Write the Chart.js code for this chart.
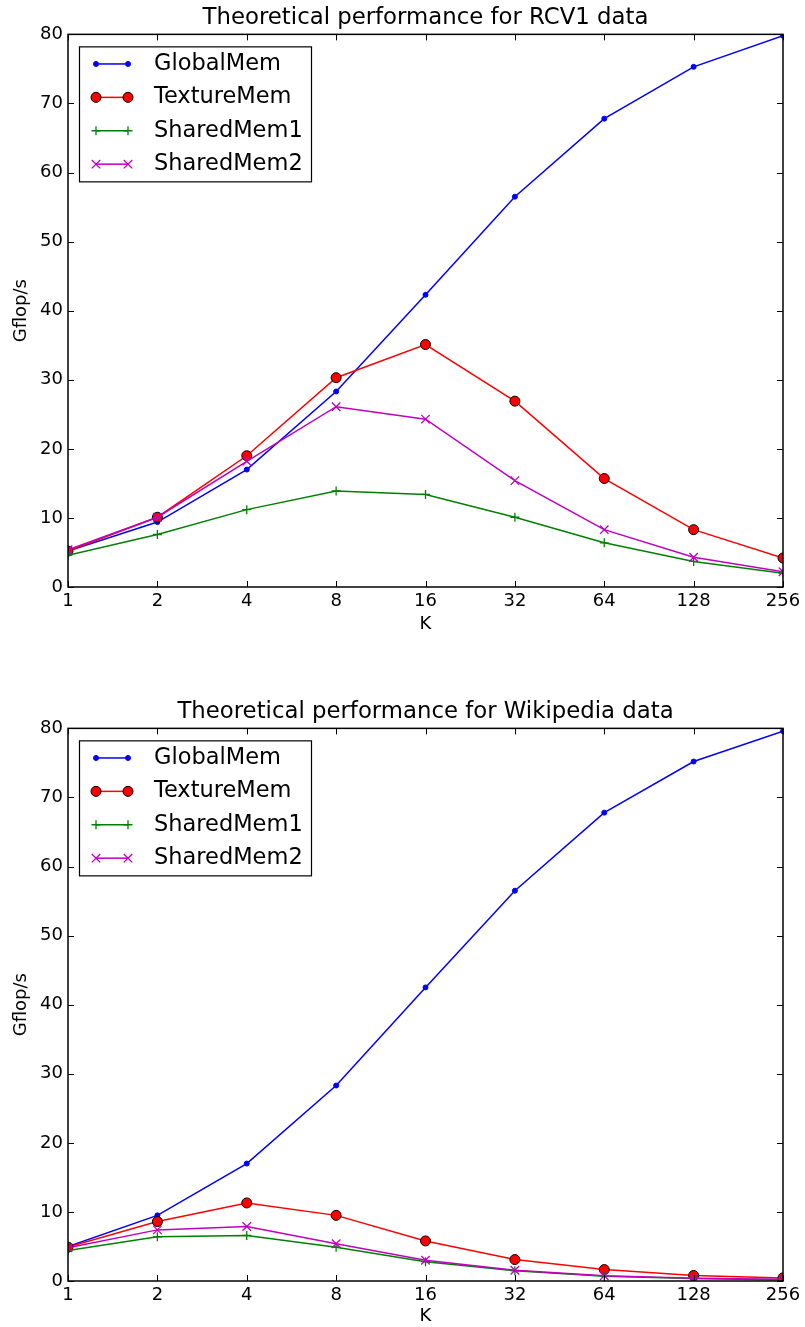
<!DOCTYPE html>
<html>
<head>
<meta charset="utf-8">
<script src="https://cdn.jsdelivr.net/npm/chart.js@4.4.1/dist/chart.umd.min.js"></script>
<style>
    body { margin: 0; background: #fff; }
    canvas { display: block; }
</style>
</head>
<body>
<canvas id="rcv1Chart" width="805" height="663"></canvas>
<canvas id="wikiChart" width="805" height="664"></canvas>
<script>
// K values on the x axis
const kLabels = ['1', '2', '4', '8', '16', '32', '64', '128', '256'];

// RCV1 data (Gflop/s)
const rcv1Global = [5.2, 9.4, 17.0, 28.3, 42.3, 56.5, 67.8, 75.3, 79.8];
const rcv1Texture = [5.2, 10.1, 19.0, 30.3, 35.1, 26.9, 15.7, 8.3, 4.2];
const rcv1Shared1 = [4.6, 7.6, 11.2, 13.9, 13.4, 10.1, 6.4, 3.7, 2.0];
const rcv1Shared2 = [5.4, 10.1, 18.2, 26.1, 24.3, 15.4, 8.3, 4.3, 2.2];

// Wikipedia data (Gflop/s)
const wikiGlobal = [5.0, 9.5, 17.0, 28.3, 42.5, 56.5, 67.8, 75.2, 79.6];
const wikiTexture = [4.9, 8.6, 11.3, 9.5, 5.8, 3.1, 1.65, 0.8, 0.45];
const wikiShared1 = [4.4, 6.4, 6.6, 4.9, 2.8, 1.5, 0.7, 0.35, 0.15];
const wikiShared2 = [4.8, 7.4, 7.9, 5.4, 3.0, 1.55, 0.75, 0.4, 0.25];

const seriesNames = ['GlobalMem', 'TextureMem', 'SharedMem1', 'SharedMem2'];
const yTicks = { min: 0, max: 80, step: 10 };

const FONT = 'DejaVu Sans';
const TICK_LEN = 6;

Chart.defaults.font.family = FONT;
Chart.defaults.color = '#000';

// marker styles roughly like matplotlib's '.-', 'o-', '+-', 'x-'
const seriesStyles = [
    { color: '#0000ff', pointStyle: 'circle', radius: 2.5, fill: '#0000ff', edge: '#0000ff', edgeWidth: 1 },
    { color: '#ff0000', pointStyle: 'circle', radius: 5, fill: '#ff0000', edge: '#000000', edgeWidth: 1 },
    { color: '#008000', pointStyle: 'cross', radius: 4.5, fill: '#008000', edge: '#008000', edgeWidth: 1.3 },
    { color: '#bf00bf', pointStyle: 'crossRot', radius: 6, fill: '#bf00bf', edge: '#bf00bf', edgeWidth: 1.3 }
];

// frame around the plot and inward ticks on all four sides
const framePlugin = {
    id: 'frame',
    afterDatasetsDraw(chart) {
        const { ctx, chartArea: a, scales: { x, y } } = chart;
        ctx.save();
        ctx.strokeStyle = '#000';
        ctx.lineWidth = 1;
        ctx.beginPath();
        x.ticks.forEach((t, i) => {
            const px = Math.round(x.getPixelForTick(i)) + 0.5;
            ctx.moveTo(px, a.bottom); ctx.lineTo(px, a.bottom - TICK_LEN);
            ctx.moveTo(px, a.top); ctx.lineTo(px, a.top + TICK_LEN);
        });
        y.ticks.forEach((t, i) => {
            const py = Math.round(y.getPixelForTick(i)) + 0.5;
            ctx.moveTo(a.left, py); ctx.lineTo(a.left + TICK_LEN, py);
            ctx.moveTo(a.right, py); ctx.lineTo(a.right - TICK_LEN, py);
        });
        ctx.stroke();
        ctx.lineWidth = 1.5;
        ctx.strokeRect(a.left, a.top, a.right - a.left, a.bottom - a.top);
        ctx.restore();
    }
};

// legend box in the upper left, markers at both ends of a short line
const boxLegendPlugin = {
    id: 'boxLegend',
    afterDraw(chart) {
        const { ctx, chartArea: a } = chart;
        const bx = a.left + 11, by = a.top + 12, bw = 232, bh = 135;
        ctx.save();
        ctx.fillStyle = '#fff';
        ctx.fillRect(bx, by, bw, bh);
        ctx.strokeStyle = '#000';
        ctx.lineWidth = 1.2;
        ctx.strokeRect(bx + 0.5, by + 0.5, bw, bh);

        chart.data.datasets.forEach((ds, i) => {
            const st = seriesStyles[i];
            const rowY = by + 17.6 + i * 33.4;
            const x1 = bx + 17, x2 = bx + 49;
            ctx.strokeStyle = st.color;
            ctx.lineWidth = 1.5;
            ctx.beginPath();
            ctx.moveTo(x1, rowY); ctx.lineTo(x2, rowY);
            ctx.stroke();
            [x1, x2].forEach(px => {
                ctx.fillStyle = st.fill;
                ctx.strokeStyle = st.edge;
                ctx.lineWidth = st.edgeWidth;
                Chart.helpers.drawPoint(ctx, {
                    pointStyle: st.pointStyle, radius: st.radius, rotation: 0, borderWidth: st.edgeWidth
                }, px, rowY);
            });
            ctx.fillStyle = '#000';
            ctx.font = '22.5px "' + FONT + '"';
            ctx.textBaseline = 'middle';
            ctx.textAlign = 'left';
            ctx.fillText(ds.label, bx + 75, rowY);
        });
        ctx.restore();
    }
};

function buildDatasets(values) {
    return values.map((data, i) => {
        const st = seriesStyles[i];
        return {
            label: seriesNames[i],
            data: data,
            borderColor: st.color,
            borderWidth: 1.5,
            pointStyle: st.pointStyle,
            pointRadius: st.radius,
            pointBackgroundColor: st.fill,
            pointBorderColor: st.edge,
            pointBorderWidth: st.edgeWidth,
            fill: false,
            tension: 0,
            clip: 0,
            order: 4 - i
        };
    });
}

function makeChart(canvasId, titleText, values, layout) {
    return new Chart(document.getElementById(canvasId), {
        type: 'line',
        data: { labels: kLabels, datasets: buildDatasets(values) },
        options: {
            responsive: false,
            animation: false,
            events: [],
            layout: { padding: { left: 0, right: 22, top: 0, bottom: layout.padBottom } },
            plugins: {
                legend: { display: false },
                tooltip: { enabled: false },
                title: {
                    display: true,
                    fullSize: false,
                    text: titleText,
                    color: '#000',
                    font: { family: FONT, size: 22.8, weight: 'normal' },
                    padding: { top: layout.titleTop, bottom: 3 }
                }
            },
            scales: {
                x: {
                    type: 'category',
                    offset: false,
                    grid: { display: false, drawTicks: false },
                    border: { display: false },
                    ticks: { color: '#000', font: { size: 18 }, padding: 4, maxRotation: 0, autoSkip: false },
                    title: { display: true, text: 'K', color: '#000', font: { size: 18 }, padding: { top: 0, bottom: 0 } },
                    afterFit: s => { s.height = layout.xHeight; }
                },
                y: {
                    min: yTicks.min,
                    max: yTicks.max,
                    grid: { display: false, drawTicks: false },
                    border: { display: false },
                    ticks: { stepSize: yTicks.step, color: '#000', font: { size: 18 }, padding: 5 },
                    title: { display: true, text: 'Gflop/s', color: '#000', font: { size: 18 }, padding: { top: 11, bottom: 0 } },
                    afterFit: s => { s.width = 68; }
                }
            }
        },
        plugins: [framePlugin, boxLegendPlugin]
    });
}

makeChart('rcv1Chart', 'Theoretical performance for RCV1 data',
    [rcv1Global, rcv1Texture, rcv1Shared1, rcv1Shared2],
    { titleTop: 4, xHeight: 48, padBottom: 28 });

makeChart('wikiChart', 'Theoretical performance for Wikipedia data',
    [wikiGlobal, wikiTexture, wikiShared1, wikiShared2],
    { titleTop: 35, xHeight: 46, padBottom: 0 });
</script>
</body>
</html>
